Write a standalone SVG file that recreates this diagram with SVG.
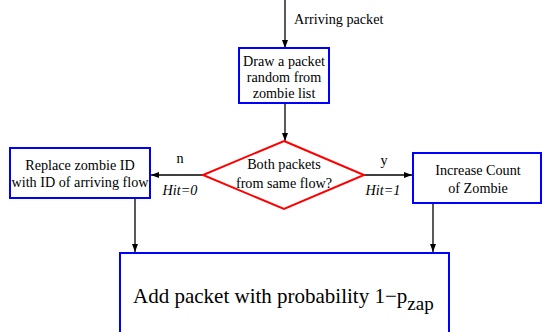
<svg xmlns="http://www.w3.org/2000/svg" width="543" height="332" viewBox="0 0 543 332">
<defs>
<marker id="ah" markerWidth="8" markerHeight="6" refX="8" refY="3" orient="auto" markerUnits="userSpaceOnUse">
<path d="M0,0 L8,3 L0,6 z" fill="#000"/>
</marker>
<style>
.box{fill:#fff;stroke:#0000ff;stroke-width:2}
.dia{fill:#fff;stroke:#ff0000;stroke-width:2}
text{font-family:"Liberation Serif","Times New Roman",Times,"DejaVu Serif",serif;fill:#000}
.t{font-size:14.2px;text-anchor:middle}
.i{font-style:italic}
.c{stroke:#000;stroke-width:1.3;fill:none;marker-end:url(#ah)}
</style>
</defs>
<rect width="543" height="332" fill="#fff"/>
<g id="connectors">
<line class="c" x1="285" y1="0" x2="285" y2="48"/>
<line class="c" x1="285" y1="104" x2="285" y2="141"/>
<line class="c" x1="203" y1="175" x2="151" y2="175"/>
<line class="c" x1="364" y1="175" x2="412" y2="175"/>
<line class="c" x1="135" y1="198" x2="135" y2="252"/>
<line class="c" x1="433" y1="203" x2="433" y2="252"/>
<text class="t" x="294" y="24" style="text-anchor:start">Arriving packet</text>
<text class="t" x="180" y="163">n</text>
<text class="t i" x="180" y="195">Hit=0</text>
<text class="t" x="384" y="165">y</text>
<text class="t i" x="383" y="195">Hit=1</text>
</g>
<g id="draw">
<rect class="box" x="239" y="48" width="90" height="55"/>
<text class="t" x="284" y="66">Draw a packet</text>
<text class="t" x="284" y="82">random from</text>
<text class="t" x="284" y="98">zombie list</text>
</g>
<g id="decision">
<polygon class="dia" points="284,141 364,175 284,209 203,175"/>
<text class="t" x="284" y="169">Both packets</text>
<text class="t" x="284" y="188">from same flow?</text>
</g>
<g id="replace">
<rect class="box" x="10" y="148" width="140" height="50"/>
<text class="t" x="80" y="170">Replace zombie ID</text>
<text class="t" x="80" y="187">with ID of arriving flow</text>
</g>
<g id="increase">
<rect class="box" x="413" y="153" width="128" height="50"/>
<text class="t" x="478" y="175">Increase Count</text>
<text class="t" x="478" y="193">of Zombie</text>
</g>
<g id="add">
<rect class="box" x="120" y="253" width="329" height="85"/>
<text x="133" y="303" font-size="21">Add packet with probability 1−p<tspan dy="7" font-size="19">zap</tspan></text>
</g>
</svg>
